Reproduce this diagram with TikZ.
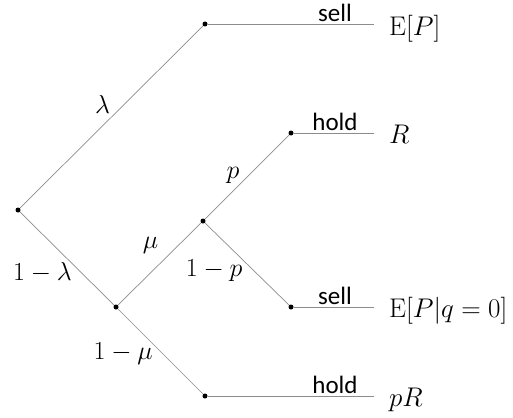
\RequirePackage{fix-cm}
\documentclass[tikz,border=0pt]{standalone}
\usepackage{fontspec}
\newfontfamily\actfont{Carlito}
\usetikzlibrary{positioning}

\tikzset{
  dot/.style={circle, fill=black, inner sep=0pt, minimum size=5pt},
  branch/.style={draw=gray!90, line width=0.7pt},
  prob/.style={font=\fontsize{26}{30}\selectfont, inner sep=1pt},
  act/.style={font=\actfont\fontsize{25}{29}\selectfont, anchor=south, inner sep=1pt},
  payoff/.style={font=\fontsize{27}{31}\selectfont, anchor=base west, inner sep=0pt},
}

\begin{document}
\begin{tikzpicture}[x=1pt, y=-1pt]
  \useasboundingbox (0,0) rectangle (513,417);

  % Entscheidungsknoten
  \node[dot] (root) at (18,  210) {};
  \node[dot] (up)   at (205, 24)  {};
  \node[dot] (lo)   at (116, 307) {};
  \node[dot] (mid)  at (203, 221) {};
  \node[dot] (hr)   at (291, 133) {};
  \node[dot] (sq)   at (291, 307) {};
  \node[dot] (bot)  at (205, 396) {};

  % Enden der waagrechten Linien
  \coordinate (eup)  at (374, 24);
  \coordinate (ehr)  at (374, 133);
  \coordinate (esq)  at (374, 307);
  \coordinate (ebot) at (374, 396);

  % Zweige mit Wahrscheinlichkeiten
  \draw[branch] (root) -- node[prob, pos=0.57, left=13pt] {$\lambda$} (up);
  \draw[branch] (root) -- node[prob, pos=0.65, left=8pt] {$1-\lambda$} (lo);
  \draw[branch] (lo) -- node[prob, pos=0.73, left=19pt] {$\mu$} (mid);
  \draw[branch] (lo) -- node[prob, pos=0.53, left=9pt] {$1-\mu$} (bot);
  \draw[branch] (mid) -- node[prob, pos=0.52, left=8pt] {$p$} (hr);
  \draw[branch] (mid) -- node[prob, pos=0.58, left=10pt] {$1-p$} (sq);

  % Aktionen
  \draw[branch] (up)  -- (eup);
  \draw[branch] (hr)  -- (ehr);
  \draw[branch] (sq)  -- (esq);
  \draw[branch] (bot) -- (ebot);
  \node[act] (a1) at (335, 23)  {sell};
  \node[act] (a2) at (335, 132) {hold};
  \node[act] (a3) at (335, 306) {sell};
  \node[act] (a4) at (335, 395) {hold};

  % Auszahlungen
  \node[payoff] (r1) at (389, 36)  {$\mathrm{E}[P]$};
  \node[payoff] (r2) at (389, 143) {$R$};
  \node[payoff] (r3) at (389, 317) {$\mathrm{E}[P|q=0]$};
  \node[payoff] (r4) at (389, 406) {$pR$};
\end{tikzpicture}
\end{document}
